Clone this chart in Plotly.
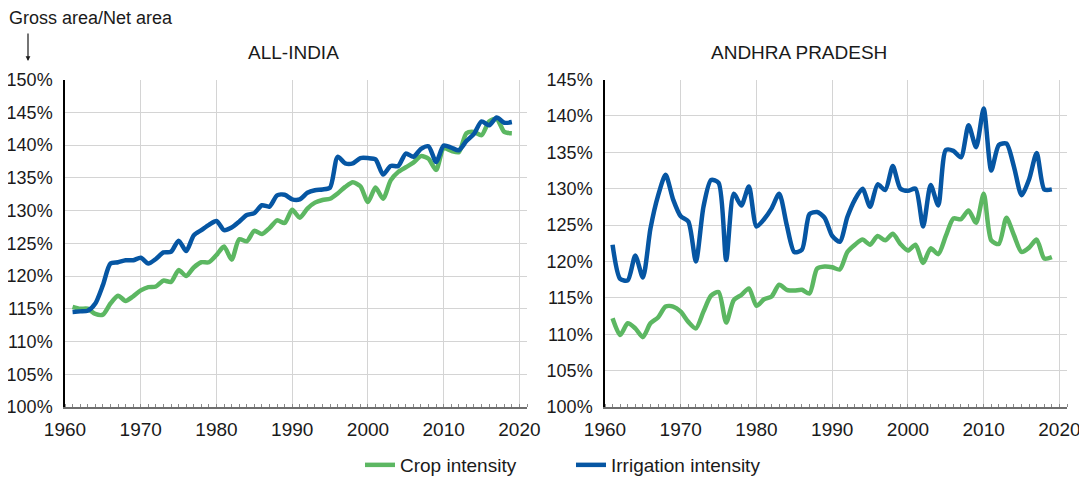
import plotly.graph_objects as go

# ---------- data ----------
years = list(range(1961, 2020))

india_crop = [
    115.3, 115.0, 115.0, 114.2, 114.1, 115.8, 117.0, 116.2, 116.9, 117.8,
    118.3, 118.4, 119.3, 119.1, 120.9, 120.0, 121.3, 122.1, 122.1, 123.2,
    124.5, 122.5, 125.6, 125.3, 126.9, 126.4, 127.3, 128.5, 128.1, 130.1,
    128.9, 130.3, 131.2, 131.6, 131.8, 132.6, 133.6, 134.3, 133.7, 131.3,
    133.5, 131.8, 134.6, 135.9, 136.6, 137.3, 138.3, 137.9, 136.2, 139.5,
    139.1, 138.9, 141.8, 142.0, 141.5, 143.6, 144.0, 142.0, 141.8,
]
india_irrig = [
    114.5, 114.6, 114.7, 115.8, 118.6, 121.9, 122.1, 122.4, 122.4, 122.8,
    121.9, 122.6, 123.6, 123.7, 125.4, 123.8, 126.2, 127.0, 127.8, 128.4,
    127.0, 127.4, 128.3, 129.3, 129.6, 130.8, 130.6, 132.3, 132.4, 131.7,
    131.7, 132.7, 133.1, 133.2, 133.5, 138.2, 137.2, 137.2, 138.0, 138.0,
    137.8, 135.5, 136.8, 136.8, 138.7, 138.2, 139.4, 139.8, 137.4, 139.9,
    139.6, 139.2, 140.6, 141.7, 143.6, 143.0, 144.2, 143.4, 143.5,
]
ap_crop = [
    112.2, 109.9, 111.5, 110.8, 109.6, 111.5, 112.3, 113.8, 113.8, 113.1,
    111.7, 110.8, 113.1, 115.3, 115.8, 111.6, 114.7, 115.4, 116.3, 113.9,
    114.8, 115.2, 116.8, 116.1, 116.0, 116.1, 115.6, 119.0, 119.3, 119.2,
    118.9, 121.3, 122.3, 123.0, 122.3, 123.5, 122.9, 123.8, 122.4, 121.5,
    122.3, 119.8, 121.8, 121.0, 123.5, 125.9, 125.8, 127.0, 125.3, 129.3,
    122.9, 122.4, 126.0, 123.6, 121.3, 121.9, 123.0, 120.4, 120.6,
]
ap_irrig = [
    122.3, 117.6, 117.4, 120.8, 117.8, 124.5, 129.0, 131.9, 128.5, 126.2,
    125.5, 120.0, 127.5, 131.2, 130.8, 120.2, 129.3, 127.7, 130.3, 124.8,
    125.8, 127.3, 129.3, 125.0, 121.3, 121.6, 126.5, 126.8, 126.0, 123.5,
    122.7, 126.1, 128.5, 130.0, 127.5, 130.6, 129.8, 133.1, 130.0, 129.7,
    130.0, 124.8, 130.5, 127.7, 135.3, 135.2, 134.3, 138.7, 135.7, 141.0,
    132.5, 136.0, 136.2, 133.0, 129.1, 131.3, 134.9, 129.9, 129.9,
]

left_ticks = [100, 105, 110, 115, 120, 125, 130, 135, 140, 145, 150]
right_ticks = [100, 105, 110, 115, 120, 125, 130, 135, 140, 145]
x_ticks = [1960, 1970, 1980, 1990, 2000, 2010, 2020]

GREEN = "#5cb762"
BLUE = "#0656a3"
FONT = "Liberation Sans, Arial, sans-serif"
TXT = "#1a1a1a"

# page body has an 8px margin, so the figure is a bit smaller than the window
OFF = 8
W, H = 1087 - OFF, 477 - OFF


def px(x):
    return (x - OFF) / W


def py(y):
    return 1 - (y - OFF) / H


fig = go.Figure()

# ---------- traces ----------
def add_line(x, y, name, color, xa, ya, show):
    fig.add_trace(go.Scatter(
        x=x, y=y, name=name, mode="lines",
        line=dict(color=color, width=4.5, shape="spline", smoothing=0.7),
        xaxis=xa, yaxis=ya, showlegend=show,
    ))

add_line(years, india_crop, "Crop intensity", GREEN, "x", "y", True)
add_line(years, india_irrig, "Irrigation intensity", BLUE, "x", "y", True)
add_line(years, ap_crop, "Crop intensity", GREEN, "x2", "y2", False)
add_line(years, ap_irrig, "Irrigation intensity", BLUE, "x2", "y2", False)

# ---------- axes ----------
ydom = [py(407), py(79.5)]

xcommon = dict(
    range=[1960, 2021], tickvals=x_ticks, showgrid=True, gridcolor="#d4d4d4", gridwidth=1,
    showline=True, linecolor="#6e6e6e", linewidth=2, ticks="", zeroline=False,
    tickfont=dict(size=19, color=TXT, family=FONT), automargin=False, ticklabelstandoff=4,
    minor=dict(dtick=1, tick0=1960, ticks="inside", ticklen=3, tickcolor="#8a8a8a", showgrid=False),
)
ycommon = dict(
    showgrid=True, gridcolor="#d4d4d4", gridwidth=1, showline=True, linecolor="#000000",
    linewidth=1.5, ticks="", zeroline=False, automargin=False,
    tickfont=dict(size=18, color=TXT, family=FONT), ticklabelstandoff=7,
)

fig.update_layout(
    xaxis=dict(xcommon, domain=[px(65), px(527)], anchor="y"),
    xaxis2=dict(xcommon, domain=[px(605), px(1067)], anchor="y2"),
    yaxis=dict(ycommon, domain=ydom, range=[100, 150], tickvals=left_ticks,
               ticktext=[f"{v}%" for v in left_ticks], anchor="x"),
    yaxis2=dict(ycommon, domain=ydom, range=[100, 145], tickvals=right_ticks,
                ticktext=[f"{v}%" for v in right_ticks], anchor="x2"),
)

# ---------- titles & notes ----------
def note(text, x, y, size, xanchor="center"):
    fig.add_annotation(text=text, x=px(x), y=py(y), xref="paper", yref="paper",
                       xanchor=xanchor, yanchor="middle", showarrow=False,
                       font=dict(size=size, color=TXT, family=FONT))

note("ALL-INDIA", 293, 52, 19)
note("ANDHRA PRADESH", 799, 52, 19)
note("Gross area/Net area", 7, 18, 18, xanchor="left")
fig.add_annotation(text="", x=px(28), y=py(61), xref="paper", yref="paper",
                   ax=0, ay=-29, showarrow=True, arrowhead=2, arrowsize=0.8, arrowwidth=1.2,
                   arrowcolor=TXT)

fig.update_layout(
    width=W, height=H,
    margin=dict(l=0, r=0, t=0, b=0, autoexpand=False),
    paper_bgcolor="white", plot_bgcolor="white",
    font=dict(family=FONT, color=TXT, size=18),
    legend=dict(
        orientation="h", x=px(360), xanchor="left", y=py(465), yanchor="middle",
        font=dict(size=19, color=TXT, family=FONT),
        entrywidth=166, entrywidthmode="pixels", traceorder="normal",
    ),
)

fig.write_html("out.html")
